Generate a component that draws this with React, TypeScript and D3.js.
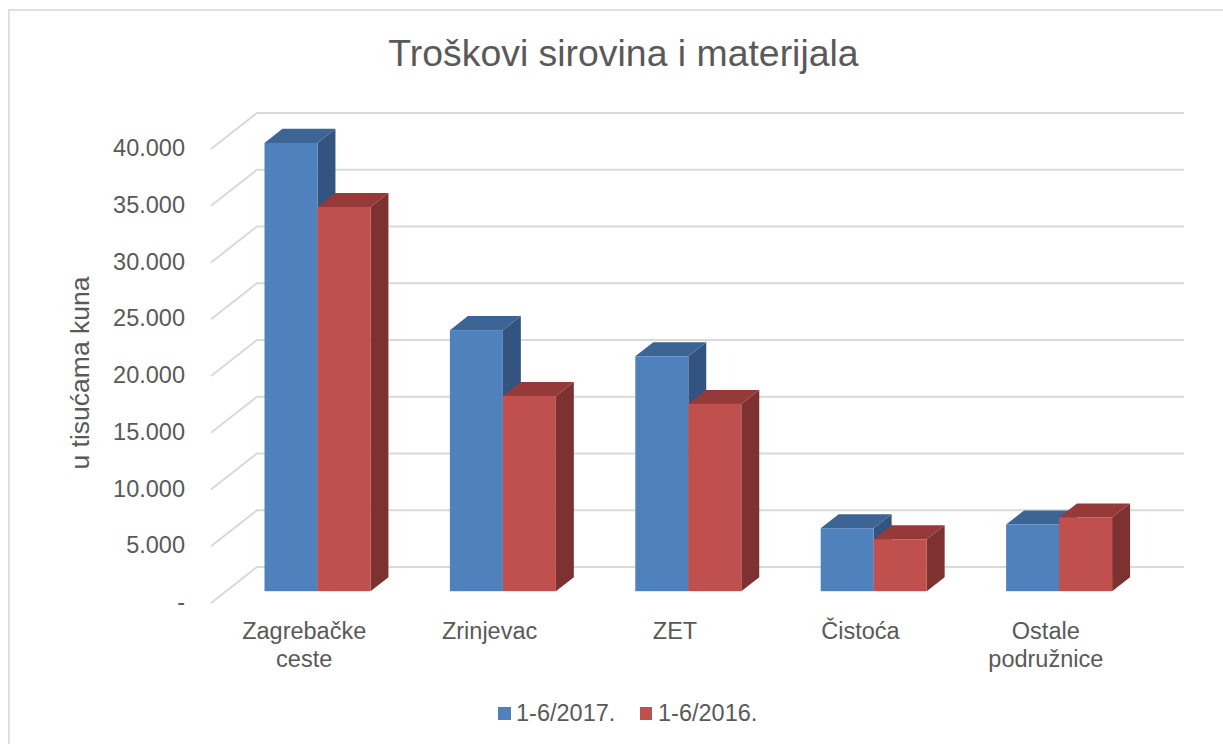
import React from 'react';
import * as d3 from 'd3';

const categories = [['Zagrebačke', 'ceste'], ['Zrinjevac'], ['ZET'], ['Čistoća'], ['Ostale', 'podružnice']];
const series2017 = [39500, 23000, 20700, 5550, 5880];
const series2016 = [33850, 17200, 16500, 4580, 6500];
const seriesNames = ['1-6/2017.', '1-6/2016.'];
const ticks = [0, 5000, 10000, 15000, 20000, 25000, 30000, 35000, 40000];

const W = 1223, H = 744;
const FONT = '"Liberation Sans", Arial, sans-serif';
const TXT = '#595959';
const GRID = '#d9d9d9';

const blue = { front: '#4f81bd', top: '#3c6494', side: '#335480' };
const red = { front: '#c0504d', top: '#953a38', side: '#7d3130' };

const depthX = 46, depthY = 36;
const frontLeft = 211, frontRight = 1138, frontBase = 603;

const xBand = d3.scaleBand<number>().domain(d3.range(5)).range([frontLeft, frontRight]);
const yScale = d3.scaleLinear().domain([0, 40000]).range([frontBase, frontBase - 454]);
const fmt = (v: number) => (v === 0 ? '-' : d3.format(',')(v).replace(',', '.'));

// bars sit in the middle of the floor depth
const zFront = 0.3, zBack = 0.69;

function Bar({ x, w, v, c }: { x: number; w: number; v: number; c: typeof blue }) {
  const dx0 = zFront * depthX, dy0 = zFront * depthY + 1;
  const dx1 = zBack * depthX, dy1 = zBack * depthY + 1;
  const x0 = x + dx0, x1 = x0 + w;
  const yb = frontBase - dy0, yt = yScale(v) - dy0;
  const sx = dx1 - dx0, sy = dy1 - dy0;
  return (
    <g>
      <polygon fill={c.side} points={`${x1},${yt} ${x1 + sx},${yt - sy} ${x1 + sx},${yb - sy} ${x1},${yb}`} />
      <polygon fill={c.top} points={`${x0},${yt} ${x0 + sx},${yt - sy} ${x1 + sx},${yt - sy} ${x1},${yt}`} />
      <rect x={x0} y={yt} width={w} height={yb - yt} fill={c.front} />
    </g>
  );
}

export default function App() {
  const step = xBand.step();
  const barW = 53;
  return (
    <svg width={W} height={H} style={{ position: 'absolute', left: 0, top: 0, background: '#fff' }} fontFamily={FONT}>
      <path d={`M9,${H} V10 H${W}`} fill="none" stroke="#e0e0e0" strokeWidth={2} />
      <text x={623.5} y={66} textAnchor="middle" fontSize={37.4} fill={TXT}>Troškovi sirovina i materijala</text>

      {ticks.map(t => (
        <path key={t} fill="none" stroke={GRID} strokeWidth={2}
          d={`M${frontLeft},${yScale(t)} L${frontLeft + depthX},${yScale(t) - depthY} H${frontRight + depthX}`} />
      ))}
      {ticks.map(t => (
        <text key={t} x={185} y={yScale(t) + 7} textAnchor="end" fontSize={23.5} fill={TXT}>{fmt(t)}</text>
      ))}
      <text transform="translate(89,373) rotate(-90)" textAnchor="middle" fontSize={26.5} fill={TXT}>u tisućama kuna</text>

      {categories.map((c, i) => {
        const center = (xBand(i) as number) + step / 2;
        return (
          <g key={i}>
            <Bar x={center - barW} w={barW} v={series2017[i]} c={blue} />
            <Bar x={center} w={barW} v={series2016[i]} c={red} />
            <text textAnchor="middle" fontSize={23.5} fill={TXT}>
              {c.map((line, j) => (
                <tspan key={j} x={center + 0.5} y={639 + j * 27.5}>{line}</tspan>
              ))}
            </text>
          </g>
        );
      })}

      <rect x={498} y={707} width={13} height={13} fill={blue.front} />
      <text x={516} y={721} fontSize={23.5} fill={TXT}>{seriesNames[0]}</text>
      <rect x={640} y={707} width={12} height={13} fill={red.front} />
      <text x={658} y={721} fontSize={23.5} fill={TXT}>{seriesNames[1]}</text>
    </svg>
  );
}
